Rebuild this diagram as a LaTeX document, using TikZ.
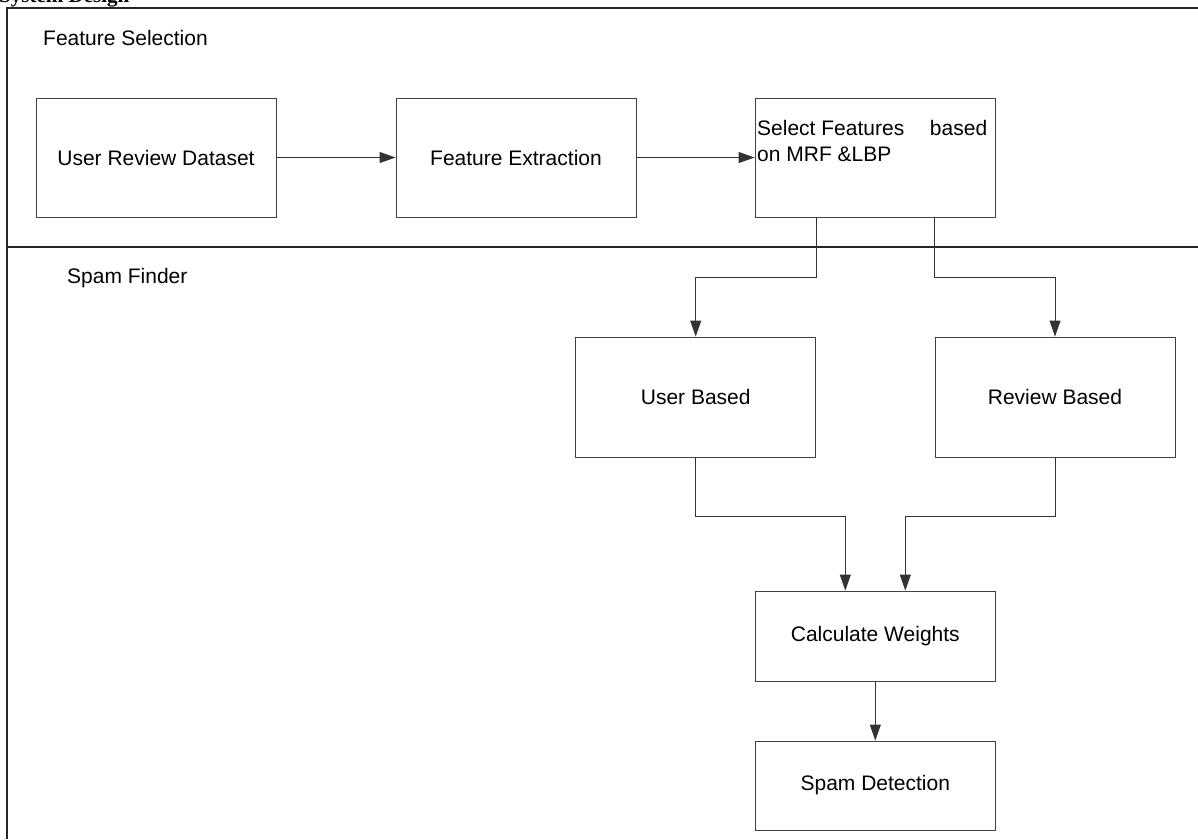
\documentclass[tikz,border=0pt]{standalone}
\usepackage{fontspec}
\setmainfont{Liberation Sans}
\newfontfamily\serifbold{Liberation Serif}
\usetikzlibrary{arrows.meta,calc}
\tikzset{
  box/.style={draw=black!75, line width=0.9pt, minimum width=240pt, inner sep=0pt, font=\fontsize{21pt}{25pt}\selectfont},
  arr/.style={draw=black!80, line width=0.9pt, -{Triangle[length=16pt,width=11pt]}},
  frame/.style={draw=black!85, line width=1.6pt},
  lbl/.style={anchor=base west, inner sep=0pt, font=\fontsize{21pt}{25pt}\selectfont}
}
\begin{document}
\begin{tikzpicture}[x=1pt,y=-1pt]
\useasboundingbox (0,0) rectangle (1198,839);
% cut-off heading
\node[anchor=base west, inner sep=0pt, font=\serifbold\bfseries\fontsize{21pt}{25pt}\selectfont] (head) at (-1,2) {System Design};
% frame
\coordinate (ftl) at (7,8);
\coordinate (ftr) at (1198,8);
\coordinate (fbl) at (7,839);
\coordinate (dl) at (7,247);
\coordinate (dr) at (1198,247);
\draw[frame] (ftr) -- (ftl) -- (fbl);
\draw[frame] (dl) -- (dr);
% lane labels
\node[lbl] (fs) at (43,45) {Feature Selection};
\node[lbl] (sf) at (67,283) {Spam Finder};
% boxes
\node[box, minimum height=119pt] (b1) at (156,157.5) {User Review Dataset};
\node[box, minimum height=119pt] (b2) at (516,157.5) {Feature Extraction};
\node[box, minimum height=119pt] (b3) at (875,157.5) {};
\node[lbl] (b3a) at (757,135) {\makebox[230pt][l]{Select Features\hfill based}};
\node[lbl] (b3b) at (757,161) {on MRF \&LBP};
\node[box, minimum height=120pt] (ub) at (695.7,397) {User Based};
\node[box, minimum height=120pt] (rb) at (1055,397) {Review Based};
\node[box, minimum height=90pt] (cw) at (875.3,636) {Calculate Weights};
\node[box, minimum height=89pt] (sd) at (875.3,785.5) {Spam Detection};
% elbow levels
\coordinate (e1) at (0,277);
\coordinate (e2) at (0,516);
% connectors
\draw[arr] (b1.east) -- (b2.west);
\draw[arr] (b2.east) -- (b3.west);
\draw[arr] (b3.south -| ub.east) -- (ub.east |- e1) -| (ub.north);
\draw[arr] (b3.south -| rb.west) -- (rb.west |- e1) -| (rb.north);
\draw[arr] (ub.south) -- (ub.south |- e2) -| ([xshift=-30pt]cw.north);
\draw[arr] (rb.south) -- (rb.south |- e2) -| ([xshift=30pt]cw.north);
\draw[arr] (cw.south) -- (sd.north);
\end{tikzpicture}
\end{document}
